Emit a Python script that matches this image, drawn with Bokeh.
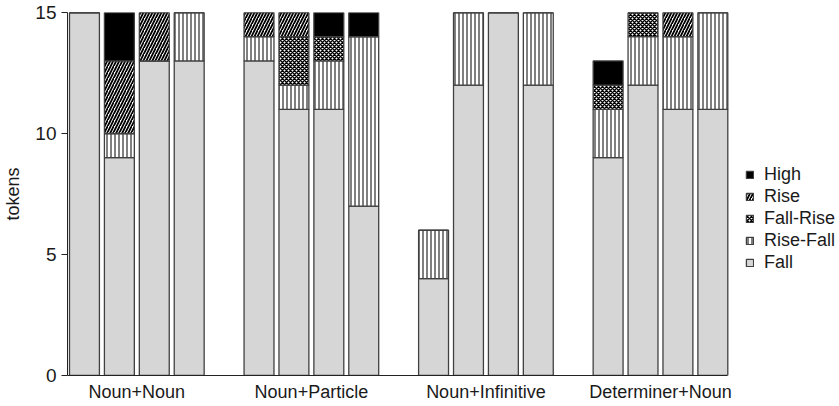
from bokeh.plotting import figure
from bokeh.models import ColumnDataSource, Legend, LegendItem, FixedTicker
from bokeh.embed import file_html
from bokeh.resources import INLINE

groups = ["Noun+Noun", "Noun+Particle", "Noun+Infinitive", "Determiner+Noun"]
bars_per_group = 4
series = ["Fall", "Rise-Fall", "Fall-Rise", "Rise", "High"]

fall      = [15, 9, 13, 13,  13, 11, 11, 7,  4, 12, 15, 12,  9, 12, 11, 11]
rise_fall = [0, 1, 0, 2,     1, 1, 2, 7,     2, 3, 0, 3,     2, 2, 3, 4]
fall_rise = [0, 0, 0, 0,     0, 2, 1, 0,     0, 0, 0, 0,     1, 1, 0, 0]
rise      = [0, 3, 2, 0,     1, 1, 0, 0,     0, 0, 0, 0,     0, 0, 1, 0]
high      = [0, 2, 0, 0,     0, 0, 1, 1,     0, 0, 0, 0,     1, 0, 0, 0]
y_ticks = [0, 5, 10, 15]

slot = bars_per_group + 1
xs = [g * slot + b for g in range(len(groups)) for b in range(bars_per_group)]
centers = [g * slot + (bars_per_group - 1) / 2 for g in range(len(groups))]

src = ColumnDataSource(dict(x=xs, Fall=fall, **{"Rise-Fall": rise_fall, "Fall-Rise": fall_rise},
                            Rise=rise, High=high))

FONT = "Liberation Sans"
TXT = "#1a1a1a"

W, H = 839, 406
LEFT, TOP, BOTTOM = 65, 12, 31
px_per_unit = 35.0
x_start = -0.486
axis_end = xs[-1] + 0.414
x_end = x_start + (W - LEFT) / px_per_unit

p = figure(width=W, height=H, output_backend="svg", toolbar_location=None,
           x_range=(x_start, x_end), y_range=(0, 15),
           min_border_left=LEFT, min_border_right=0, min_border_top=TOP, min_border_bottom=BOTTOM)
p.outline_line_color = None
p.xgrid.visible = False
p.ygrid.visible = False

styles = {
    "Fall":      dict(fill_color="#d6d6d6", hatch_pattern=None),
    "Rise-Fall": dict(fill_color="white", hatch_pattern="|", hatch_scale=4, hatch_weight=1),
    "Fall-Rise": dict(fill_color="white", hatch_pattern="x", hatch_scale=4, hatch_weight=1.5),
    "Rise":      dict(fill_color="white", hatch_pattern="/", hatch_scale=6, hatch_weight=1.8),
    "High":      dict(fill_color="black", hatch_pattern=None),
}

renderers = p.vbar_stack(series, x="x", width=30 / 35, source=src,
                         fill_color=[styles[s]["fill_color"] for s in series],
                         hatch_pattern=[styles[s]["hatch_pattern"] for s in series],
                         hatch_scale=[styles[s].get("hatch_scale", 12) for s in series],
                         hatch_weight=[styles[s].get("hatch_weight", 1) for s in series],
                         hatch_color="black",
                         line_color="#404040", line_width=1.3)

items = [LegendItem(label=s, renderers=[r]) for s, r in zip(series, renderers)][::-1]
legend = Legend(items=items, location=(678, 102), orientation="vertical",
                border_line_color=None, background_fill_alpha=0,
                padding=0, margin=0, spacing=1,
                glyph_width=9, glyph_height=9, label_height=20, label_standoff=10,
                label_text_font=FONT, label_text_font_size="18px", label_text_color=TXT)
p.add_layout(legend, "center")

p.xaxis.bounds = (x_start, axis_end)
p.xaxis.ticker = FixedTicker(ticks=centers)
p.xaxis.major_label_overrides = {c: g for c, g in zip(centers, groups)}
p.xaxis.major_tick_line_color = None
p.xaxis.major_tick_out = 0
p.xaxis.major_tick_in = 0
p.xaxis.minor_tick_line_color = None
p.xaxis.major_label_standoff = 6
p.xaxis.major_label_text_font = FONT
p.xaxis.major_label_text_font_size = "18px"
p.xaxis.major_label_text_color = TXT
p.xaxis.axis_line_color = "#222222"

p.yaxis.ticker = FixedTicker(ticks=y_ticks)
p.yaxis.minor_tick_line_color = None
p.yaxis.major_tick_out = 6
p.yaxis.major_tick_in = 0
p.yaxis.major_label_standoff = 5
p.yaxis.major_label_text_font = FONT
p.yaxis.major_label_text_font_size = "19px"
p.yaxis.major_label_text_color = TXT
p.yaxis.axis_label = "tokens"
p.yaxis.axis_label_standoff = 9
p.yaxis.axis_label_text_font = FONT
p.yaxis.axis_label_text_font_size = "18px"
p.yaxis.axis_label_text_font_style = "normal"
p.yaxis.axis_label_text_color = TXT
p.yaxis.axis_line_color = "#222222"
p.yaxis.major_tick_line_color = "#222222"

open("out.html", "w").write(file_html(p, INLINE))
